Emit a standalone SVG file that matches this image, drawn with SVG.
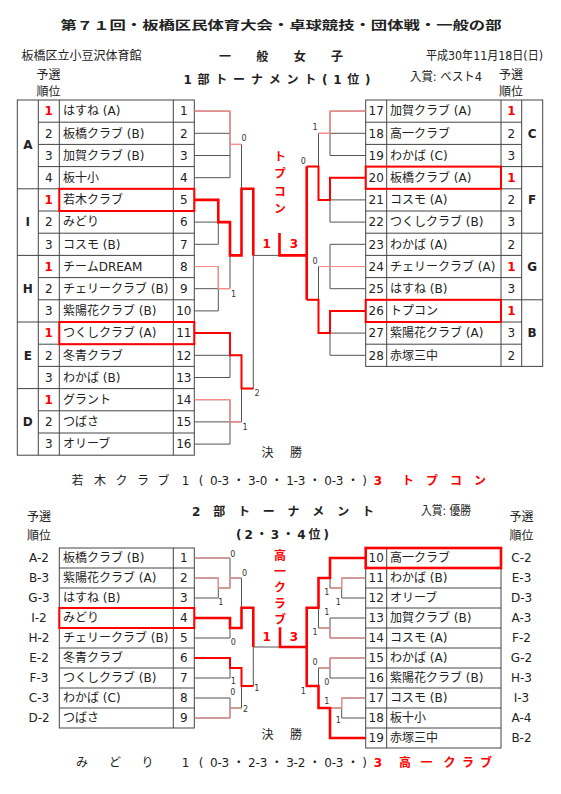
<svg xmlns="http://www.w3.org/2000/svg" width="561" height="794" viewBox="0 0 561 794">
<style>
text{font-family:"DejaVu Sans","Noto Sans CJK JP",sans-serif;fill:#222;font-size:12px}
.c{text-anchor:middle}
.r{fill:#f00;font-weight:bold}
.g{font-weight:bold;text-anchor:middle}
.s{font-size:8px;fill:#333;text-anchor:middle}
.h{font-family:"Noto Sans CJK JP",sans-serif}
.v{writing-mode:vertical-rl}
.tb{fill:none;stroke:#444;stroke-width:1}
.br{fill:none;stroke:#555;stroke-width:1}
.pk{fill:none;stroke:#ff8a8a;stroke-width:1.2}
.rd{fill:none;stroke:#f00;stroke-width:2.6}
.rd2{fill:none;stroke:#f00;stroke-width:2}
.bx{fill:none;stroke:#f00;stroke-width:2}
</style>
<rect width="561" height="794" fill="#fff"/>

<g id="header">
<text class="h c" x="281" y="30" font-size="16" font-weight="bold" textLength="441" lengthAdjust="spacingAndGlyphs">第７１回・板橋区民体育大会・卓球競技・団体戦・一般の部</text>
<text class="h" x="21.6" y="60" font-size="12">板橋区立小豆沢体育館</text>
<text class="h" x="219" y="61" font-size="17.5" font-weight="bold" textLength="124" lengthAdjust="spacing">一　般　女　子</text>
<text x="426" y="60" font-size="11" textLength="117" lengthAdjust="spacingAndGlyphs">平成30年11月18日(日)</text>
<text class="h c" x="48.5" y="79" font-size="9.5">予選</text>
<text class="h c" x="48.5" y="96" font-size="9.5">順位</text>
<text class="h c" x="511" y="79" font-size="9.5">予選</text>
<text class="h c" x="511" y="96" font-size="9.5">順位</text>
<text x="183.5" y="84" font-size="14" font-weight="bold" textLength="187" lengthAdjust="spacing">1部トーナメント(1位)</text>
<text x="410" y="81" font-size="11" textLength="72" lengthAdjust="spacingAndGlyphs">入賞: ベスト4</text>
</g>

<g id="tables">
<rect class="tb" x="17.3" y="100" width="177" height="355.2"/>
<path class="tb" d="M38.3 100V455.2M59.3 100V455.2M173.3 100V455.2
M17.3 188.8H194.3M17.3 255.4H194.3M17.3 322H194.3M17.3 388.6H194.3
M38.3 122.2H194.3M38.3 144.4H194.3M38.3 166.6H194.3M38.3 211H194.3M38.3 233.2H194.3M38.3 277.6H194.3M38.3 299.8H194.3M38.3 344.2H194.3M38.3 366.4H194.3M38.3 410.8H194.3M38.3 433H194.3"/>
<rect class="tb" x="365.7" y="100" width="177" height="266.4"/>
<path class="tb" d="M386.7 100V366.4M501 100V366.4M521.7 100V366.4
M365.7 166.6H542.7M365.7 233.2H542.7M365.7 299.8H542.7
M365.7 122.2H521.7M365.7 144.4H521.7M365.7 188.8H521.7M365.7 211H521.7M365.7 255.4H521.7M365.7 277.6H521.7M365.7 322H521.7M365.7 344.2H521.7"/>
<rect class="tb" x="59.3" y="548" width="135" height="180"/>
<path class="tb" d="M173.3 548V728M59.3 568H194.3M59.3 588H194.3M59.3 608H194.3M59.3 628H194.3M59.3 648H194.3M59.3 668H194.3M59.3 688H194.3M59.3 708H194.3"/>
<rect class="tb" x="365.7" y="548" width="135.3" height="200"/>
<path class="tb" d="M386.7 548V748M365.7 568H501M365.7 588H501M365.7 608H501M365.7 628H501M365.7 648H501M365.7 668H501M365.7 688H501M365.7 708H501M365.7 728H501"/>
</g>

<g id="groups">
<text class="g" x="27.8" y="148.6">A</text>
<text class="g" x="27.8" y="226.3">I</text>
<text class="g" x="27.8" y="292.9">H</text>
<text class="g" x="27.8" y="359.5">E</text>
<text class="g" x="27.8" y="426.1">D</text>
<text class="g" x="532.2" y="137.5">C</text>
<text class="g" x="532.2" y="204.1">F</text>
<text class="g" x="532.2" y="270.7">G</text>
<text class="g" x="532.2" y="337.3">B</text>
</g>

<g id="top-left">
<g id="e1"><text class="c r" x="48.8" y="115.3">1</text><text x="63" y="115.3">はすね (A)</text><text class="c" x="183.8" y="115.3">1</text></g>
<g id="e2"><text class="c" x="48.8" y="137.5">2</text><text x="63" y="137.5">板橋クラブ (B)</text><text class="c" x="183.8" y="137.5">2</text></g>
<g id="e3"><text class="c" x="48.8" y="159.7">3</text><text x="63" y="159.7">加賀クラブ (B)</text><text class="c" x="183.8" y="159.7">3</text></g>
<g id="e4"><text class="c" x="48.8" y="181.9">4</text><text x="63" y="181.9">板十小</text><text class="c" x="183.8" y="181.9">4</text></g>
<g id="e5"><text class="c r" x="48.8" y="204.1">1</text><text x="63" y="204.1">若木クラブ</text><text class="c" x="183.8" y="204.1">5</text><rect class="bx" x="59.3" y="188.8" width="135" height="22.2"/></g>
<g id="e6"><text class="c" x="48.8" y="226.3">2</text><text x="63" y="226.3">みどり</text><text class="c" x="183.8" y="226.3">6</text></g>
<g id="e7"><text class="c" x="48.8" y="248.5">3</text><text x="63" y="248.5">コスモ (B)</text><text class="c" x="183.8" y="248.5">7</text></g>
<g id="e8"><text class="c r" x="48.8" y="270.7">1</text><text x="63" y="270.7">チームDREAM</text><text class="c" x="183.8" y="270.7">8</text></g>
<g id="e9"><text class="c" x="48.8" y="292.9">2</text><text x="63" y="292.9">チェリークラブ (B)</text><text class="c" x="183.8" y="292.9">9</text></g>
<g id="e10"><text class="c" x="48.8" y="315.1">3</text><text x="63" y="315.1">紫陽花クラブ (B)</text><text class="c" x="183.8" y="315.1">10</text></g>
<g id="e11"><text class="c r" x="48.8" y="337.3">1</text><text x="63" y="337.3">つくしクラブ (A)</text><text class="c" x="183.8" y="337.3">11</text><rect class="bx" x="59.3" y="322" width="135" height="22.2"/></g>
<g id="e12"><text class="c" x="48.8" y="359.5">2</text><text x="63" y="359.5">冬青クラブ</text><text class="c" x="183.8" y="359.5">12</text></g>
<g id="e13"><text class="c" x="48.8" y="381.7">3</text><text x="63" y="381.7">わかば (B)</text><text class="c" x="183.8" y="381.7">13</text></g>
<g id="e14"><text class="c r" x="48.8" y="403.9">1</text><text x="63" y="403.9">グラント</text><text class="c" x="183.8" y="403.9">14</text></g>
<g id="e15"><text class="c" x="48.8" y="426.1">2</text><text x="63" y="426.1">つばさ</text><text class="c" x="183.8" y="426.1">15</text></g>
<g id="e16"><text class="c" x="48.8" y="448.3">3</text><text x="63" y="448.3">オリーブ</text><text class="c" x="183.8" y="448.3">16</text></g>
</g>

<g id="top-right">
<g id="e17"><text class="c" x="376.2" y="115.3">17</text><text x="390" y="115.3">加賀クラブ (A)</text><text class="c r" x="511.4" y="115.3">1</text></g>
<g id="e18"><text class="c" x="376.2" y="137.5">18</text><text x="390" y="137.5">高一クラブ</text><text class="c" x="511.4" y="137.5">2</text></g>
<g id="e19"><text class="c" x="376.2" y="159.7">19</text><text x="390" y="159.7">わかば (C)</text><text class="c" x="511.4" y="159.7">3</text></g>
<g id="e20"><text class="c" x="376.2" y="181.9">20</text><text x="390" y="181.9">板橋クラブ (A)</text><text class="c r" x="511.4" y="181.9">1</text><rect class="bx" x="365.7" y="166.6" width="135.3" height="22.2"/></g>
<g id="e21"><text class="c" x="376.2" y="204.1">21</text><text x="390" y="204.1">コスモ (A)</text><text class="c" x="511.4" y="204.1">2</text></g>
<g id="e22"><text class="c" x="376.2" y="226.3">22</text><text x="390" y="226.3">つくしクラブ (B)</text><text class="c" x="511.4" y="226.3">3</text></g>
<g id="e23"><text class="c" x="376.2" y="248.5">23</text><text x="390" y="248.5">わかば (A)</text><text class="c" x="511.4" y="248.5">2</text></g>
<g id="e24"><text class="c" x="376.2" y="270.7">24</text><text x="390" y="270.7">チェリークラブ (A)</text><text class="c r" x="511.4" y="270.7">1</text></g>
<g id="e25"><text class="c" x="376.2" y="292.9">25</text><text x="390" y="292.9">はすね (B)</text><text class="c" x="511.4" y="292.9">3</text></g>
<g id="e26"><text class="c" x="376.2" y="315.1">26</text><text x="390" y="315.1">トプコン</text><text class="c r" x="511.4" y="315.1">1</text><rect class="bx" x="365.7" y="299.8" width="135.3" height="22.2"/></g>
<g id="e27"><text class="c" x="376.2" y="337.3">27</text><text x="390" y="337.3">紫陽花クラブ (A)</text><text class="c" x="511.4" y="337.3">3</text></g>
<g id="e28"><text class="c" x="376.2" y="359.5">28</text><text x="390" y="359.5">赤塚三中</text><text class="c" x="511.4" y="359.5">2</text></g>
</g>

<g id="connectors">
<path class="br" d="M194.3 111.1H230M194.3 133.3H230M194.3 155.5H230M194.3 177.7H230M230 111.1V177.7
M194.3 199.9H218.3M194.3 222.1H218.3M194.3 244.3H218.3M218.3 199.9V244.3
M194.3 266.5H218.3M194.3 288.7H218.3M194.3 310.9H218.3M218.3 266.5V310.9
M218.3 222.1H230M218.3 288.7H230M230 222.1V288.7
M230 144.4H241.5M230 255.4H241.5M241.5 144.4V255.4
M194.3 333.1H230M194.3 355.3H230M194.3 377.5H230M230 333.1V377.5
M194.3 399.7H230M194.3 421.9H230M194.3 444.1H230M230 399.7V444.1
M230 355.3H241.5M230 421.9H241.5M241.5 355.3V421.9
M241.5 188.8H253.3M241.5 388.6H253.3M253.3 188.8V388.6M253.3 255.4H279.5
M365.7 111.1H330M365.7 133.3H330M365.7 155.5H330M330 111.1V155.5
M365.7 177.7H330M365.7 199.9H330M365.7 222.1H330M330 177.7V222.1
M330 133.3H318.5M330 199.9H318.5M318.5 133.3V199.9
M365.7 244.3H330M365.7 266.5H318.5M365.7 288.7H330M330 244.3V288.7
M365.7 310.9H330M365.7 333.1H330M365.7 355.3H330M330 310.9V355.3
M330 333.1H318.5M318.5 266.5V333.1
M318.5 166.6H306.7M318.5 299.8H306.7M306.7 166.6V299.8"/>
<path class="pk" d="M194.3 111.1H230V144.4H241.5M194.3 266.5H218.3V288.7H230M194.3 399.7H230V421.9H241.5M365.7 111.1H330V133.3H318.5M365.7 266.5H318.5"/>
<path class="rd" d="M194.3 199.9H218.3V222.1H230V255.4H241.5V188.8H253.3V255.4"/>
<path class="rd2" d="M194.3 333.1H230V355.3H241.5V388.6H253.3"/>
<path class="rd2" d="M365.7 177.7H330V199.9H318.5V166.6H306.7"/>
<path class="rd2" d="M306.7 299.8H318.5V333.1H330V310.9H365.7"/>
<path class="rd" d="M306.7 166.6V299.8M306.7 255.4H279.5V233"/>

<path class="br" d="M194.3 558H230M194.3 578H218.3M194.3 598H218.3M218.3 578V598M218.3 588H230M230 558V588M230 578H241.5
M194.3 618H230M194.3 638H230M230 618V638M230 628H241.5M241.5 578V628M241.5 607.7H253.3
M194.3 658H230M194.3 678H230M230 658V678M230 668H241.5
M194.3 698H230M194.3 718H230M230 698V718M230 708H241.5M241.5 668V708M241.5 686H253.3
M253.3 607.7V686M253.3 647H280
M365.7 558H330M330 558V588M365.7 578H341.7M365.7 598H341.7M341.7 578V598M341.7 588H330M330 578H318.5
M365.7 618H330M365.7 638H330M330 618V638M330 628H318.5M318.5 578V628M318.5 607.7H306.7
M365.7 658H330M365.7 678H330M330 658V678M330 668H318.5
M365.7 698H341.7M365.7 718H341.7M341.7 698V718M341.7 708H330M365.7 738H330M330 708V738M318.5 668V708M318.5 686H306.7
M306.7 607.7V686M306.7 647H280"/>
<path class="pk" d="M194.3 558H230M194.3 578H218.3V588H230V578H241.5M194.3 718H230V708H241.5
M365.7 578H341.7V588H330M365.7 638H330V628H318.5M365.7 658H330V668H318.5M365.7 698H341.7V708H330"/>
<path class="rd" d="M194.3 618H230V628H241.5V607.7H253.3V647"/>
<path class="rd2" d="M194.3 658H230V668H241.5V686H253.3"/>
<path class="rd" d="M365.7 558H330V578H318.5V607.7H306.7V686H318.5V708H330V738H365.7M306.7 647H280V627.3"/>
</g>

<g id="scores">
<text class="s" x="244" y="141">0</text>
<text class="s" x="233.5" y="297">1</text>
<text class="s" x="257" y="396">2</text>
<text class="s" x="245" y="430">1</text>
<text class="s" x="315" y="130">1</text>
<text class="s" x="303.3" y="163.7">0</text>
<text class="s" x="315" y="263.5">0</text>
<text class="s" x="232.7" y="556.5">0</text>
<text class="s" x="244.5" y="576.3">0</text>
<text class="s" x="220.7" y="604.7">1</text>
<text class="s" x="233.3" y="644.7">0</text>
<text class="s" x="233.3" y="684.3">1</text>
<text class="s" x="256.7" y="691">1</text>
<text class="s" x="232.7" y="694.7">0</text>
<text class="s" x="245.5" y="711.5">2</text>
<text class="s" x="326.7" y="595">1</text>
<text class="s" x="338.3" y="604.5">1</text>
<text class="s" x="326.7" y="614.7">1</text>
<text class="s" x="315" y="634.5">1</text>
<text class="s" x="315" y="664.7">0</text>
<text class="s" x="326.7" y="684.7">0</text>
<text class="s" x="303.3" y="693.7">1</text>
<text class="s" x="326.7" y="703.5">1</text>
<text class="s" x="338.3" y="723">1</text>
</g>

<g id="final1">
<text class="h r v" x="280" y="150.5" font-size="12" letter-spacing="5.3">トプコン</text>
<text class="c r" x="266.7" y="248" font-size="12.5">1</text>
<text class="c r" x="294" y="248" font-size="12.5">3</text>
<text class="h c" x="267.5" y="457" font-size="12.5">決</text>
<text class="h c" x="296" y="457" font-size="12.5">勝</text>
<text class="h c" x="77.5" y="484.5" font-size="11">若</text>
<text class="h c" x="100" y="484.5" font-size="11">木</text>
<text class="h c" x="121.5" y="484.5" font-size="11">ク</text>
<text class="h c" x="143" y="484.5" font-size="11">ラ</text>
<text class="h c" x="163.5" y="484.5" font-size="11">ブ</text>
<text class="c" x="185.5" y="484.5" font-size="11.5">1</text>
<text class="c" x="201" y="484.5" font-size="11.5">(</text>
<text x="210" y="484.5" font-size="11.5" textLength="157" lengthAdjust="spacing">0-3 ・ 3-0 ・ 1-3 ・ 0-3 ・ )</text>
<text class="c r" x="378" y="484.5" font-size="12">3</text>
<text class="h r" x="402" y="484.5" font-size="12">ト　プ　コ　ン</text>
</g>

<g id="header2">
<text x="192" y="516" font-size="14" font-weight="bold" textLength="182" lengthAdjust="spacing">2 部 ト ー ナ メ ン ト</text>
<text x="421" y="515" font-size="11" textLength="50" lengthAdjust="spacingAndGlyphs">入賞: 優勝</text>
<text class="h c" x="39" y="521" font-size="11">予選</text>
<text class="h c" x="39" y="540" font-size="11">順位</text>
<text class="h c" x="521.5" y="521" font-size="11">予選</text>
<text class="h c" x="521.5" y="540" font-size="11">順位</text>
<text x="236" y="539" font-size="14" font-weight="bold" textLength="93" lengthAdjust="spacing">(2・3・4位)</text>
</g>

<g id="bottom-left">
<g id="b1"><text class="c" x="39" y="562.2">A-2</text><text x="63" y="562.2">板橋クラブ (B)</text><text class="c" x="183.8" y="562.2">1</text></g>
<g id="b2"><text class="c" x="39" y="582.2">B-3</text><text x="63" y="582.2">紫陽花クラブ (A)</text><text class="c" x="183.8" y="582.2">2</text></g>
<g id="b3"><text class="c" x="39" y="602.2">G-3</text><text x="63" y="602.2">はすね (B)</text><text class="c" x="183.8" y="602.2">3</text></g>
<g id="b4"><text class="c" x="39" y="622.2">I-2</text><text x="63" y="622.2">みどり</text><text class="c" x="183.8" y="622.2">4</text><rect class="bx" x="59.3" y="608" width="135" height="20"/></g>
<g id="b5"><text class="c" x="39" y="642.2">H-2</text><text x="63" y="642.2">チェリークラブ (B)</text><text class="c" x="183.8" y="642.2">5</text></g>
<g id="b6"><text class="c" x="39" y="662.2">E-2</text><text x="63" y="662.2">冬青クラブ</text><text class="c" x="183.8" y="662.2">6</text></g>
<g id="b7"><text class="c" x="39" y="682.2">F-3</text><text x="63" y="682.2">つくしクラブ (B)</text><text class="c" x="183.8" y="682.2">7</text></g>
<g id="b8"><text class="c" x="39" y="702.2">C-3</text><text x="63" y="702.2">わかば (C)</text><text class="c" x="183.8" y="702.2">8</text></g>
<g id="b9"><text class="c" x="39" y="722.2">D-2</text><text x="63" y="722.2">つばさ</text><text class="c" x="183.8" y="722.2">9</text></g>
</g>

<g id="bottom-right">
<g id="b10"><text class="c" x="376.2" y="562.2">10</text><text x="390" y="562.2">高一クラブ</text><text class="c" x="521.5" y="562.2">C-2</text><rect fill="none" stroke="#f00" stroke-width="2.6" x="365.7" y="548" width="135.3" height="20"/></g>
<g id="b11"><text class="c" x="376.2" y="582.2">11</text><text x="390" y="582.2">わかば (B)</text><text class="c" x="521.5" y="582.2">E-3</text></g>
<g id="b12"><text class="c" x="376.2" y="602.2">12</text><text x="390" y="602.2">オリーブ</text><text class="c" x="521.5" y="602.2">D-3</text></g>
<g id="b13"><text class="c" x="376.2" y="622.2">13</text><text x="390" y="622.2">加賀クラブ (B)</text><text class="c" x="521.5" y="622.2">A-3</text></g>
<g id="b14"><text class="c" x="376.2" y="642.2">14</text><text x="390" y="642.2">コスモ (A)</text><text class="c" x="521.5" y="642.2">F-2</text></g>
<g id="b15"><text class="c" x="376.2" y="662.2">15</text><text x="390" y="662.2">わかば (A)</text><text class="c" x="521.5" y="662.2">G-2</text></g>
<g id="b16"><text class="c" x="376.2" y="682.2">16</text><text x="390" y="682.2">紫陽花クラブ (B)</text><text class="c" x="521.5" y="682.2">H-3</text></g>
<g id="b17"><text class="c" x="376.2" y="702.2">17</text><text x="390" y="702.2">コスモ (B)</text><text class="c" x="521.5" y="702.2">I-3</text></g>
<g id="b18"><text class="c" x="376.2" y="722.2">18</text><text x="390" y="722.2">板十小</text><text class="c" x="521.5" y="722.2">A-4</text></g>
<g id="b19"><text class="c" x="376.2" y="742.2">19</text><text x="390" y="742.2">赤塚三中</text><text class="c" x="521.5" y="742.2">B-2</text></g>
</g>

<g id="final2">
<text class="h r v" x="280" y="549.5" font-size="11" letter-spacing="4">高一クラブ</text>
<text class="c r" x="266.7" y="641" font-size="12">1</text>
<text class="c r" x="294" y="641" font-size="12">3</text>
<text class="h c" x="267.5" y="739" font-size="12.5">決</text>
<text class="h c" x="296" y="739" font-size="12.5">勝</text>
<text class="h c" x="82" y="766.5" font-size="11">み</text>
<text class="h c" x="115" y="766.5" font-size="11">ど</text>
<text class="h c" x="147.5" y="766.5" font-size="11">り</text>
<text class="c" x="185.5" y="766.5" font-size="11.5">1</text>
<text class="c" x="201" y="766.5" font-size="11.5">(</text>
<text x="210" y="766.5" font-size="11.5" textLength="157" lengthAdjust="spacing">0-3 ・ 2-3 ・ 3-2 ・ 0-3 ・ )</text>
<text class="c r" x="378" y="766.5" font-size="12">3</text>
<text class="h c r" x="405" y="766.5" font-size="12">高</text>
<text class="h c r" x="426.5" y="766.5" font-size="12">一</text>
<text class="h c r" x="449.5" y="766.5" font-size="12">ク</text>
<text class="h c r" x="468" y="766.5" font-size="12">ラ</text>
<text class="h c r" x="486" y="766.5" font-size="12">ブ</text>
</g>
</svg>
